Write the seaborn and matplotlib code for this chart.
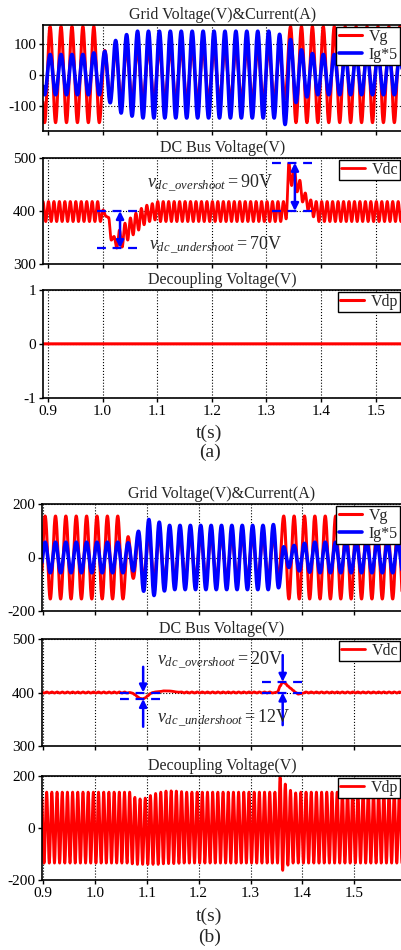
import numpy as np
import matplotlib
matplotlib.use("Agg")
import matplotlib.pyplot as plt
import seaborn as sns

# ---------------- values ----------------
# 50 Hz signals: magnitudes of successive half-cycle extrema (first one positive)
grid_t0 = 0.884          # time of first extremum (s)
grid_half = 0.01         # half period (s)

vg_a = [155] * 12 + [78] * 34 + [155] * 23
ig_a = ([65] * 10 + [70, 65, 75, 91, 110, 124, 129, 134] + [140] * 26
        + [130, 161, 113, 90, 80, 72, 68] + [65] * 18)
vg_b = [155] * 18 + [78] * 30 + [155] * 25
ig_b = ([57] * 18 + [55, 50, 98, 126, 142, 142, 132, 125] + [120] * 20
        + [123, 113] + [40, 37, 45, 50, 53, 55] + [57] * 19)

# 100 Hz signals: successive extrema values
dca_t0, dca_half = 0.886, 0.005
vdc_a = ([380, 418] * 11 + [380]
         + [402, 390, 388, 345, 352, 330, 364, 332, 377, 345,
            387, 355, 396, 364, 405, 374, 411, 380, 414, 383]
         + [418, 380] * 23 + [418]
         + [385, 490, 448, 482, 436, 458, 417, 434, 402, 421, 389]
         + [418, 380] * 17 + [418])
vdp_a = [0] * 69

dcb_t0, dcb_half = 0.897, 0.005
vdc_b = ([401, 399] * 17
         + [400, 399, 396, 392, 389, 388, 390, 394, 398, 400,
            401, 401.5, 402, 403, 403, 403, 402.5, 402, 401, 400.5]
         + [401, 399] * 18
         + [400, 401, 412, 420, 417, 412, 408, 404, 400, 397, 398]
         + [399, 401] * 20)
vdp_b = ([138, 135] * 17
         + [138, 138, 118, 140, 112, 140, 115, 140, 125, 140, 133,
            140, 138, 138, 142, 137, 143, 137, 142, 136, 140, 135]
         + [138, 135] * 18
         + [195, 163, 169, 143, 145, 135, 135]
         + [135, 138] * 21)

# annotation levels
vdc_nom = 400
under_a, over_a = 330, 491
under_b, over_b = 388, 420

x_ticks = [0.9, 1.0, 1.1, 1.2, 1.3, 1.4, 1.5]


def wave(t, t0, half, ext, alternate=False):
    ext = np.asarray(ext, float)
    if alternate:
        ext = ext * np.where(np.arange(len(ext)) % 2 == 0, 1.0, -1.0)
    pos = (t - t0) / half
    i = np.clip(np.floor(pos).astype(int), 0, len(ext) - 2)
    s = np.clip(pos - i, 0, 1)
    return ext[i] + (ext[i + 1] - ext[i]) * (1 - np.cos(np.pi * s)) / 2


sns.set_style("ticks")
plt.rcParams["font.family"] = ["Liberation Serif", "DejaVu Serif"]
plt.rcParams["mathtext.fontset"] = "custom"
plt.rcParams["mathtext.rm"] = "Liberation Serif"
plt.rcParams["mathtext.it"] = "Liberation Serif:italic"
plt.rcParams["axes.unicode_minus"] = False

fig = plt.figure(figsize=(4.02, 9.5), dpi=100)


def make_ax(rect, xlim, ylim, yticks, title, bottom_labels):
    ax = fig.add_axes(rect)
    ax.set_xlim(*xlim)
    ax.set_ylim(*ylim)
    ax.set_yticks(yticks)
    ax.set_xticks(x_ticks)
    if bottom_labels:
        ax.set_xticklabels([f"{v:.1f}" for v in x_ticks])
    else:
        ax.set_xticklabels([])
    ax.grid(True, color="black", ls=":", lw=0.8)
    ax.set_axisbelow(True)
    ax.tick_params(direction="out", length=3, width=1, labelsize=11,
                   colors="black", pad=2)
    for side in ["left", "top", "bottom"]:
        ax.spines[side].set_color("black")
        ax.spines[side].set_linewidth(1.2)
    ax.spines["right"].set_visible(False)
    ax.set_title(title, fontsize=11.5, pad=4)
    ax.set_xlabel("")
    ax.set_ylabel("")
    return ax


def legend(ax):
    leg = ax.legend(loc="upper right", fontsize=11.5, frameon=True, fancybox=False,
                    framealpha=1, edgecolor="black", borderpad=0.15,
                    labelspacing=0.1, handlelength=1.5, handletextpad=0.4,
                    borderaxespad=0.1)
    leg.get_frame().set_linewidth(1.0)


def draw(ax, t, y, color, label, lw=2.2):
    sns.lineplot(x=t, y=y, ax=ax, color=color, lw=lw, label=label,
                 estimator=None, sort=False)


def vbar(ax, x, y0, y1, lo, hi):
    ax.plot([lo, hi], [y0, y0], color="blue", ls="--", lw=1.6, dashes=(4, 3))
    ax.plot([lo, hi], [y1, y1], color="blue", ls="--", lw=1.6, dashes=(4, 3))


def arrow(ax, x, y_from, y_to, style):
    ax.annotate("", xy=(x, y_to), xytext=(x, y_from),
                arrowprops=dict(arrowstyle=style, color="blue", lw=1.8,
                                mutation_scale=11, shrinkA=0, shrinkB=0))


# ---------------- panel (a) ----------------
xa = (0.891, 1.548)
ta = np.linspace(0.884, 1.56, 8000)
L_a = 43 / 402

ax = make_ax([L_a, 1 - 131 / 950, 1 - L_a, 106 / 950], xa, (-182, 160),
             [-100, 0, 100], "Grid Voltage(V)&Current(A)", False)
draw(ax, ta, wave(ta, grid_t0, grid_half, vg_a, True), "red", "Vg")
draw(ax, ta, wave(ta, grid_t0, grid_half, ig_a, True), "blue", "Ig*5", lw=2.6)
legend(ax)

ax = make_ax([L_a, 1 - 264 / 950, 1 - L_a, 106 / 950], xa, (300, 500),
             [300, 400, 500], "DC Bus Voltage(V)", False)
draw(ax, ta, wave(ta, dca_t0, dca_half, vdc_a), "red", "Vdc", lw=2.0)
vbar(ax, 1.032, vdc_nom, under_a, 0.990, 1.069)
arrow(ax, 1.032, vdc_nom, under_a, "<|-|>")
vbar(ax, 1.352, over_a, vdc_nom, 1.310, 1.390)
arrow(ax, 1.352, vdc_nom, over_a, "<|-|>")
ax.text(1.081, 452, r"$v_{dc\,\_overshoot}=\mathrm{90V}$", fontsize=13,
        ha="left", va="center")
ax.text(1.085, 336, r"$v_{dc\,\_undershoot}=\mathrm{70V}$", fontsize=13,
        ha="left", va="center")
legend(ax)

ax = make_ax([L_a, 1 - 397.7 / 950, 1 - L_a, 107.7 / 950], xa, (-1, 1),
             [-1, 0, 1], "Decoupling Voltage(V)", True)
draw(ax, ta, wave(ta, grid_t0, grid_half, vdp_a), "red", "Vdp", lw=2.2)
legend(ax)

fig.text(209 / 402, 1 - 433 / 950, "t(s)", fontsize=14, ha="center", va="center")
fig.text(210 / 402, 1 - 452 / 950, "(a)", fontsize=14, ha="center", va="center")

# ---------------- panel (b) ----------------
xb = (0.898, 1.592)
tb = np.linspace(0.89, 1.60, 8000)
L_b = 42 / 402

ax = make_ax([L_b, 1 - 611 / 950, 1 - L_b, 107 / 950], xb, (-200, 200),
             [-200, 0, 200], "Grid Voltage(V)&Current(A)", False)
draw(ax, tb, wave(tb, grid_t0, grid_half, vg_b, True), "red", "Vg")
draw(ax, tb, wave(tb, grid_t0, grid_half, ig_b, True), "blue", "Ig*5", lw=2.6)
legend(ax)

ax = make_ax([L_b, 1 - 746 / 950, 1 - L_b, 107 / 950], xb, (300, 500),
             [300, 400, 500], "DC Bus Voltage(V)", False)
draw(ax, tb, wave(tb, dcb_t0, dcb_half, vdc_b), "red", "Vdc", lw=2.0)
vbar(ax, 1.093, vdc_nom, under_b, 1.048, 1.135)
arrow(ax, 1.093, 448, vdc_nom, "-|>")
arrow(ax, 1.093, 336, under_b, "-|>")
vbar(ax, 1.362, over_b, vdc_nom, 1.322, 1.407)
arrow(ax, 1.362, 470, over_b, "-|>")
arrow(ax, 1.362, 339, vdc_nom, "-|>")
ax.text(1.12, 460, r"$v_{dc\,\_overshoot}=\mathrm{20V}$", fontsize=13,
        ha="left", va="center")
ax.text(1.12, 352, r"$v_{dc\,\_undershoot}=\mathrm{12V}$", fontsize=13,
        ha="left", va="center")
legend(ax)

ax = make_ax([L_b, 1 - 880 / 950, 1 - L_b, 104 / 950], xb, (-200, 200),
             [-200, 0, 200], "Decoupling Voltage(V)", True)
draw(ax, tb, wave(tb, dcb_t0, dcb_half, vdp_b, True), "red", "Vdp", lw=2.0)
legend(ax)

fig.text(209 / 402, 1 - 916 / 950, "t(s)", fontsize=14, ha="center", va="center")
fig.text(210 / 402, 1 - 937 / 950, "(b)", fontsize=14, ha="center", va="center")

fig.savefig("out.png", dpi=100)
